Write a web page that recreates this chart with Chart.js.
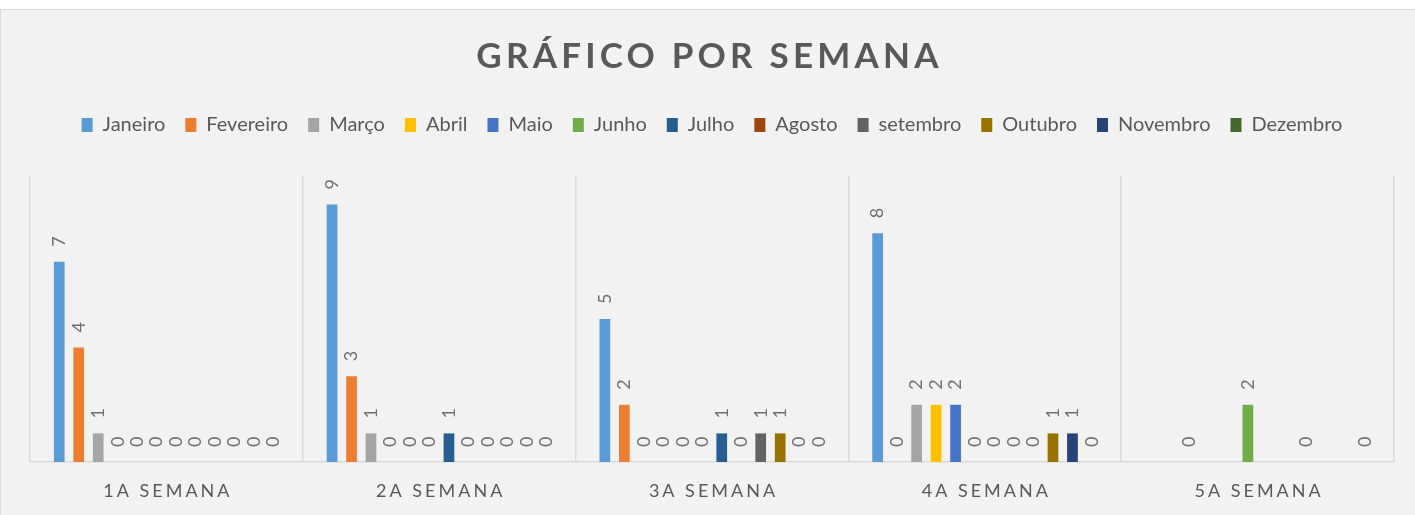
<!DOCTYPE html>
<html>
<head>
<meta charset="utf-8">
<script src="https://cdn.jsdelivr.net/npm/chart.js@4"></script>
<style>
  body { margin: 0; background: #ffffff; }
  #panel {
    position: absolute; left: 0; top: 9px; width: 1414px; height: 505px;
    background: #f2f2f2; border-top: 1px solid #d9d9d9; border-left: 1px solid #d9d9d9;
  }
  #box { position: absolute; left: 0; top: 0; width: 1415px; height: 515px; }
</style>
</head>
<body>
<div id="panel"></div>
<div id="box"><canvas id="weekChart"></canvas></div>
<script>
// Data
const weeks = ['1A SEMANA', '2A SEMANA', '3A SEMANA', '4A SEMANA', '5A SEMANA'];
const months = ['Janeiro', 'Fevereiro', 'Março', 'Abril', 'Maio', 'Junho', 'Julho',
  'Agosto', 'setembro', 'Outubro', 'Novembro', 'Dezembro'];

const janeiro   = [7, 9, 5, 8, null];
const fevereiro = [4, 3, 2, 0, null];
const marco     = [1, 1, 0, 2, 0];
const abril     = [0, 0, 0, 2, null];
const maio      = [0, 0, 0, 2, null];
const junho     = [0, 0, 0, 0, 2];
const julho     = [0, 1, 1, 0, null];
const agosto    = [0, 0, 0, 0, null];
const setembro  = [0, 0, 1, 0, 0];
const outubro   = [0, 0, 1, 1, null];
const novembro  = [0, 0, 0, 1, null];
const dezembro  = [0, 0, 0, 0, 0];

const monthColors = ['#5B9BD5', '#ED7D31', '#A5A5A5', '#FFC000', '#4472C4', '#70AD47',
  '#255E91', '#9E480E', '#636363', '#997300', '#264478', '#43682B'];

const series = [janeiro, fevereiro, marco, abril, maio, junho, julho,
  agosto, setembro, outubro, novembro, dezembro];

const FONT = 'Lato, "Open Sans", sans-serif';
const TEXT = '#595959';

// Value labels above bars, rotated like the original
const barLabels = {
  id: 'barLabels',
  afterDatasetsDraw(chart) {
    const ctx = chart.ctx;
    ctx.save();
    ctx.font = '18px ' + FONT;
    ctx.fillStyle = '#6f6f6f';
    ctx.textAlign = 'left';
    ctx.textBaseline = 'middle';
    chart.data.datasets.forEach((ds, di) => {
      const meta = chart.getDatasetMeta(di);
      meta.data.forEach((bar, i) => {
        const v = ds.data[i];
        if (v === null || v === undefined) return;
        ctx.save();
        ctx.translate(bar.x, bar.y - 15);
        ctx.rotate(-Math.PI / 2);
        ctx.fillText(String(v), 0, 0);
        ctx.restore();
      });
    });
    ctx.restore();
  }
};

// Title and spaced category labels
const spacedText = {
  id: 'spacedText',
  beforeLayout(chart) {
    // extra room between legend and plot
    const legend = chart.legend;
    if (legend && !legend._extraRoom) {
      const fit = legend.fit;
      legend.fit = function () {
        fit.call(this);
        this.height += 31;
      };
      legend._extraRoom = true;
    }
  },
  afterDraw(chart) {
    const ctx = chart.ctx;
    const xScale = chart.scales.x;
    ctx.save();
    ctx.fillStyle = TEXT;
    ctx.textAlign = 'center';
    ctx.textBaseline = 'middle';

    ctx.font = 'bold 35px ' + FONT;
    ctx.letterSpacing = '4.2px';
    ctx.fillText('GRÁFICO POR SEMANA', chart.width / 2 + 2, 57);

    ctx.font = '18px ' + FONT;
    ctx.letterSpacing = '3px';
    weeks.forEach((w, i) => {
      ctx.fillText(w, xScale.getPixelForTick(i) + 1.5, xScale.bottom + 29);
    });
    ctx.restore();
  }
};

document.addEventListener('DOMContentLoaded', () => {
  const ctx = document.getElementById('weekChart').getContext('2d');
  new Chart(ctx, {
    type: 'bar',
    data: {
      labels: weeks,
      datasets: months.map((m, i) => ({
        label: m,
        data: series[i],
        backgroundColor: monthColors[i],
        borderWidth: 0,
        categoryPercentage: 0.857,
        barPercentage: 0.55
      }))
    },
    options: {
      responsive: true,
      maintainAspectRatio: false,
      animation: false,
      layout: { padding: { top: 95, left: 30, right: 21, bottom: 53 } },
      scales: {
        x: {
          grid: { color: '#d9d9d9', lineWidth: 1.5, drawTicks: false, offset: true },
          border: { color: '#d9d9d9', width: 1.5 },
          ticks: { display: false }
        },
        y: {
          display: false,
          min: 0,
          max: 10
        }
      },
      plugins: {
        legend: {
          display: true,
          position: 'top',
          labels: {
            boxWidth: 11,
            boxHeight: 14,
            padding: 20,
            color: TEXT,
            font: { family: FONT, size: 20 }
          }
        },
        tooltip: { enabled: false }
      }
    },
    plugins: [barLabels, spacedText]
  });
});
</script>
</body>
</html>
